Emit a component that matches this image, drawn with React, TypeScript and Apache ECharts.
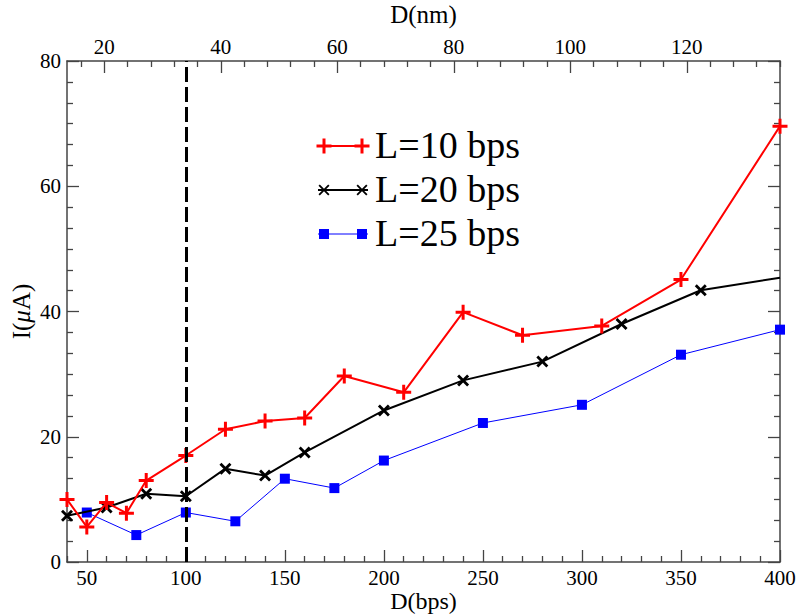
import React, { useEffect, useRef } from "react";
import * as echarts from "echarts";

// ---- Data ----
const dBpsL10 = [40, 50, 60, 70, 80, 100, 120, 140, 160, 180, 210, 240, 270, 310, 350, 400];
const iL10 = [10.0, 5.6, 9.5, 7.8, 13.0, 17.0, 21.2, 22.5, 23.0, 29.7, 27.1, 39.9, 36.2, 37.7, 45.1, 69.6];

const dBpsL20 = [40, 60, 80, 100, 120, 140, 160, 200, 240, 280, 320, 360, 400];
const iL20 = [7.4, 8.7, 10.9, 10.5, 14.9, 13.8, 17.5, 24.2, 29.0, 32.0, 38.0, 43.4, 45.4];

const dBpsL25 = [50, 75, 100, 125, 150, 175, 200, 250, 300, 350, 400];
const iL25 = [7.9, 4.3, 7.9, 6.5, 13.3, 11.8, 16.2, 22.2, 25.1, 33.1, 37.1];

const seriesNames = ["L=10 bps", "L=20 bps", "L=25 bps"];
const seriesColors = ["#ff0000", "#000000", "#0000ff"];

// axis ticks
const bpsMin = 40;
const bpsMax = 400;
const bpsTicks = [50, 100, 150, 200, 250, 300, 350, 400];
const bpsMinorStep = 10;
const nmPerBp = 0.34;
const nmTicks = [20, 40, 60, 80, 100, 120];
const nmMinorStep = 4;
const yMin = 0;
const yMax = 80;
const yInterval = 20;
const markerBps = 100;

const FONT = "'Liberation Serif', 'DejaVu Serif', serif";
const AXIS_COLOR = "#444";

function minorTicks(min: number, max: number, step: number, majors: number[]) {
  const out: number[] = [];
  const start = Math.ceil(min / step) * step;
  for (let v = start; v <= max + 1e-9; v += step) {
    const r = Math.round(v * 1000) / 1000;
    if (!majors.includes(r)) out.push(r);
  }
  return out;
}

const PLUS = "path://M6,0H9V6H15V9H9V15H6V9H0V6H6Z";
const CROSS = "path://M0,2L2,0L6,4L10,0L12,2L8,6L12,10L10,12L6,8L2,12L0,10L4,6Z";

function plusPoly(cx: number, cy: number, h: number, t: number) {
  return [
    [cx - t, cy - h], [cx + t, cy - h], [cx + t, cy - t], [cx + h, cy - t],
    [cx + h, cy + t], [cx + t, cy + t], [cx + t, cy + h], [cx - t, cy + h],
    [cx - t, cy + t], [cx - h, cy + t], [cx - h, cy - t], [cx - t, cy - t],
  ];
}
function crossPoly(cx: number, cy: number, h: number, t: number) {
  return [
    [cx - h, cy - h + t], [cx - h + t, cy - h], [cx, cy - t], [cx + h - t, cy - h],
    [cx + h, cy - h + t], [cx + t, cy], [cx + h, cy + h - t], [cx + h - t, cy + h],
    [cx, cy + t], [cx - h + t, cy + h], [cx - h, cy + h - t], [cx - t, cy],
  ];
}

export default function App() {
  const ref = useRef<HTMLDivElement>(null);

  useEffect(() => {
    if (!ref.current) return;
    const chart = echarts.init(ref.current, undefined, { renderer: "svg" });

    const nmMin = bpsMin * nmPerBp;
    const nmMax = bpsMax * nmPerBp;

    const tickStyle = { color: AXIS_COLOR, width: 1.3 };
    const labelBase = { color: "#000", fontFamily: FONT, fontSize: 21 };

    const data10 = dBpsL10.map((x, k) => [x, iL10[k]]);
    const data20 = dBpsL20.map((x, k) =>
      k === dBpsL20.length - 1 ? { value: [x, iL20[k]], symbol: "none" } : [x, iL20[k]]
    );
    const data25 = dBpsL25.map((x, k) => [x, iL25[k]]);

    // legend graphics
    const rowsY = [146, 190, 234];
    const lx0 = 318;
    const lx1 = 368;
    const mk = [324, 362];
    const legendEls: any[] = [];
    rowsY.forEach((y, i) => {
      legendEls.push({
        type: "line",
        shape: { x1: lx0, y1: y, x2: lx1, y2: y },
        style: { stroke: seriesColors[i], lineWidth: i === 2 ? 1 : 2 },
      });
      mk.forEach((cx) => {
        if (i === 0) {
          legendEls.push({ type: "polygon", shape: { points: plusPoly(cx, y, 7.5, 1.5) }, style: { fill: seriesColors[0] } });
        } else if (i === 1) {
          legendEls.push({ type: "polygon", shape: { points: crossPoly(cx, y, 5.5, 1.3) }, style: { fill: seriesColors[1] } });
        } else {
          legendEls.push({ type: "rect", shape: { x: cx - 5, y: y - 5, width: 10, height: 10 }, style: { fill: seriesColors[2] } });
        }
      });
      legendEls.push({
        type: "text",
        x: 375,
        y: y - 1,
        style: {
          text: seriesNames[i],
          fontSize: 38,
          fontFamily: FONT,
          fill: "#000",
          align: "left",
          verticalAlign: "middle",
        },
      });
    });

    chart.setOption({
      animation: false,
      backgroundColor: "#fff",
      grid: { left: 67, right: 19, top: 61, bottom: 52, containLabel: false, outerBoundsMode: "none" },
      xAxis: [
        {
          type: "value",
          position: "bottom",
          min: bpsMin,
          max: bpsMax,
          name: "D(bps)",
          nameLocation: "middle",
          nameGap: 27,
          nameMoveOverlap: false,
          nameTextStyle: { fontFamily: FONT, fontSize: 24, color: "#000" },
          axisLine: { show: true, onZero: false, lineStyle: { color: AXIS_COLOR, width: 1.5 } },
          axisTick: { show: true, inside: true, length: 12, lineStyle: tickStyle, customValues: bpsTicks },
          axisLabel: { ...labelBase, margin: 5, customValues: bpsTicks },
          splitLine: { show: false },
        },
        {
          type: "value",
          position: "bottom",
          min: bpsMin,
          max: bpsMax,
          axisLine: { show: false, onZero: false },
          axisTick: { show: true, inside: true, length: 6, lineStyle: tickStyle, customValues: minorTicks(bpsMin, bpsMax, bpsMinorStep, bpsTicks) },
          axisLabel: { show: false },
          splitLine: { show: false },
        },
        {
          type: "value",
          position: "top",
          min: nmMin,
          max: nmMax,
          name: "D(nm)",
          nameLocation: "middle",
          nameGap: 34,
          nameMoveOverlap: false,
          nameTextStyle: { fontFamily: FONT, fontSize: 25, color: "#000" },
          axisLine: { show: true, onZero: false, lineStyle: { color: AXIS_COLOR, width: 1.5 } },
          axisTick: { show: true, inside: true, length: 12, lineStyle: tickStyle, customValues: nmTicks },
          axisLabel: { ...labelBase, margin: 4, customValues: nmTicks },
          splitLine: { show: false },
        },
        {
          type: "value",
          position: "top",
          min: nmMin,
          max: nmMax,
          axisLine: { show: false, onZero: false },
          axisTick: { show: true, inside: true, length: 6, lineStyle: tickStyle, customValues: minorTicks(nmMin, nmMax, nmMinorStep, nmTicks) },
          axisLabel: { show: false },
          splitLine: { show: false },
        },
      ],
      yAxis: [
        {
          type: "value",
          position: "left",
          min: yMin,
          max: yMax,
          interval: yInterval,
          name: "{a|I(}{b|μ}{a|A)}",
          nameLocation: "middle",
          nameGap: 33,
          nameMoveOverlap: false,
          nameTextStyle: {
            color: "#000",
            rich: {
              a: { fontFamily: FONT, fontSize: 25, color: "#000" },
              b: { fontFamily: FONT, fontSize: 25, fontStyle: "italic", color: "#000" },
            },
          },
          axisLine: { show: true, onZero: false, lineStyle: { color: AXIS_COLOR, width: 1.5 } },
          axisTick: { show: true, inside: true, length: 12, lineStyle: tickStyle },
          minorTick: { show: true, splitNumber: 6, length: 6, lineStyle: tickStyle },
          axisLabel: { ...labelBase, margin: 6, inside: false },
          splitLine: { show: false },
          minorSplitLine: { show: false },
        },
        {
          type: "value",
          position: "right",
          min: yMin,
          max: yMax,
          interval: yInterval,
          axisLine: { show: true, onZero: false, lineStyle: { color: AXIS_COLOR, width: 1.5 } },
          axisTick: { show: true, inside: true, length: 12, lineStyle: tickStyle },
          minorTick: { show: true, splitNumber: 6, length: 6, lineStyle: tickStyle },
          axisLabel: { show: false },
          splitLine: { show: false },
          minorSplitLine: { show: false },
        },
      ],
      graphic: legendEls,
      series: [
        {
          name: seriesNames[1],
          type: "line",
          xAxisIndex: 0,
          yAxisIndex: 0,
          data: data20,
          symbol: CROSS,
          symbolSize: 12,
          showAllSymbol: true,
          itemStyle: { color: seriesColors[1] },
          lineStyle: { color: seriesColors[1], width: 2 },
          z: 3,
        },
        {
          name: seriesNames[2],
          type: "line",
          xAxisIndex: 0,
          yAxisIndex: 0,
          data: data25,
          symbol: "rect",
          symbolSize: 10,
          showAllSymbol: true,
          itemStyle: { color: seriesColors[2] },
          lineStyle: { color: seriesColors[2], width: 1 },
          z: 2,
        },
        {
          name: seriesNames[0],
          type: "line",
          xAxisIndex: 0,
          yAxisIndex: 0,
          data: data10,
          symbol: PLUS,
          symbolSize: 15,
          showAllSymbol: true,
          itemStyle: { color: seriesColors[0] },
          lineStyle: { color: seriesColors[0], width: 2 },
          z: 4,
          markLine: {
            silent: true,
            symbol: "none",
            label: { show: false },
            lineStyle: { color: "#000", width: 3, type: [15, 5] },
            data: [{ xAxis: markerBps }],
          },
        },
      ],
    });

    return () => chart.dispose();
  }, []);

  return (
    <div
      ref={ref}
      style={{ position: "fixed", left: 0, top: 0, width: 799, height: 614, background: "#fff" }}
    />
  );
}
